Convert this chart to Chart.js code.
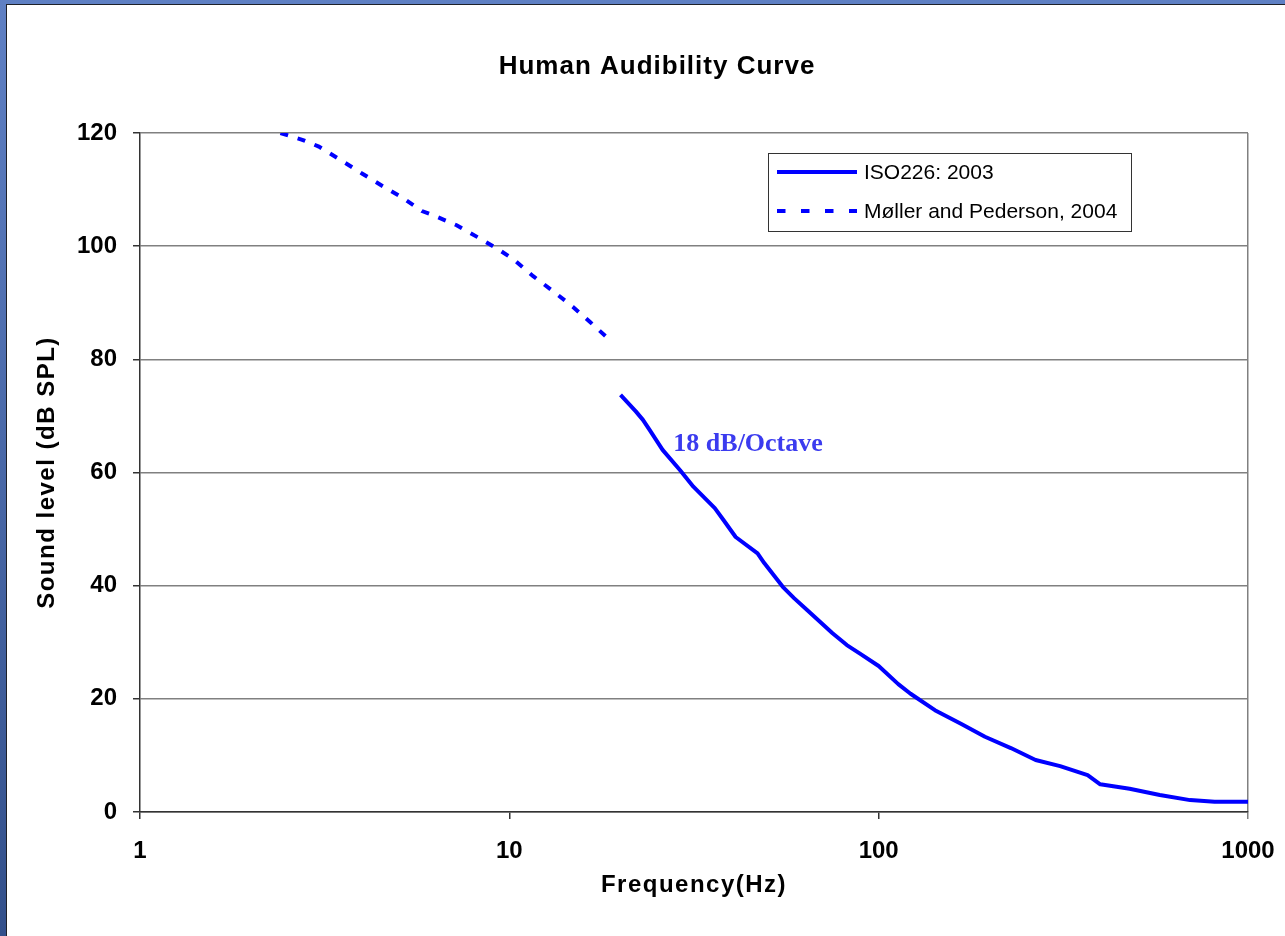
<!DOCTYPE html>
<html>
<head>
<meta charset="utf-8">
<title>Human Audibility Curve</title>
<script src="https://cdn.jsdelivr.net/npm/chart.js@4.4.1/dist/chart.umd.min.js"></script>
<style>
  html, body { margin: 0; padding: 0; }
  body {
    width: 1285px; height: 936px; overflow: hidden; position: relative;
    background: linear-gradient(#5f80c4, #33508b);
  }
  #frame {
    position: absolute; left: 6px; top: 4px; right: 0; bottom: 0;
    border-left: 1px solid #1e2129; border-top: 1px solid #1e2129;
    background: #fff;
  }
  #frame canvas { display: block; }
</style>
</head>
<body>
<div id="frame"><canvas id="audibilityChart" width="1278" height="931"></canvas></div>
<script>
// threshold of hearing, ISO 226:2003 (Hz / dB SPL)
const isoFreq = [20, 22, 23, 24, 26, 29, 31.5, 36, 38, 41, 47, 49, 55, 59, 64, 75, 82, 89,
                 100, 113, 122, 142, 167, 194, 228, 266, 310, 368, 398, 478, 577, 697, 812, 1000];
const isoLevel = [73.7, 70.8, 69.3, 67.5, 64.0, 60.4, 57.5, 53.7, 51.6, 48.6, 45.7, 44.0, 39.8, 37.8, 35.7, 31.6, 29.5, 28.0,
                  25.8, 22.6, 20.9, 18.0, 15.6, 13.3, 11.3, 9.2, 8.1, 6.5, 4.9, 4.1, 3.0, 2.1, 1.8, 1.8];

// infrasound threshold, Møller and Pederson 2004
const mpFreq = [2.4, 2.75, 3.05, 3.5, 4, 4.65, 5.1, 5.8, 6.2, 7.2, 8.2, 9.25, 10.25, 11.6, 13.1, 14.85, 16.6, 18.5, 19];
const mpLevel = [120, 118.8, 117.6, 115.2, 112.8, 110.2, 108.7, 106.2, 105.5, 103.7, 101.6, 99.6, 97.7, 94.7, 92.1, 89.3, 86.5, 83.7, 82.9];

const seriesLabels = ['ISO226: 2003', 'Møller and Pederson, 2004'];
const freqTicks = [1, 10, 100, 1000];
const levelTicks = [0, 20, 40, 60, 80, 100, 120];

const chartTitle = 'Human Audibility Curve';
const slopeNote = '18 dB/Octave';
const slopeNoteFreq = 27.8;
const slopeNoteLevel = 64.9;

Chart.defaults.font.family = '"Liberation Sans", Arial, sans-serif';
Chart.defaults.color = '#000';

const toPoints = (xs, ys) => xs.map((x, i) => ({ x: x, y: ys[i] }));

// axis titles are spaced out a little, tick labels are not (they draw after the datasets)
const textSpacing = {
  id: 'textSpacing',
  beforeDraw(chart) { chart.ctx.letterSpacing = '1.5px'; },
  afterDatasetsDraw(chart) { chart.ctx.letterSpacing = '0px'; }
};

// title sits a bit left of the plot centre, so it is drawn here
const titleText = {
  id: 'titleText',
  afterDraw(chart) {
    const ctx = chart.ctx;
    ctx.save();
    ctx.letterSpacing = '1px';
    ctx.font = 'bold 26px "Liberation Sans", Arial, sans-serif';
    ctx.fillStyle = '#000';
    ctx.textAlign = 'center';
    ctx.textBaseline = 'middle';
    ctx.fillText(chartTitle, 650, 62);
    ctx.restore();
  }
};

// boxed legend inside the plot area, top right
const legendBox = {
  id: 'legendBox',
  afterDraw(chart) {
    const { ctx, chartArea } = chart;
    const left = chartArea.right - 480;
    const top = chartArea.top + 20;
    ctx.save();
    ctx.letterSpacing = '0px';
    ctx.fillStyle = '#fff';
    ctx.fillRect(left, top, 363, 78);
    ctx.strokeStyle = '#333';
    ctx.lineWidth = 1;
    ctx.strokeRect(left + 0.5, top + 0.5, 363, 78);
    ctx.font = '21px "Liberation Sans", Arial, sans-serif';
    ctx.textBaseline = 'middle';
    chart.data.datasets.forEach((ds, i) => {
      const y = top + 19 + i * 39;
      ctx.beginPath();
      ctx.strokeStyle = ds.borderColor;
      ctx.lineWidth = ds.borderWidth;
      ctx.setLineDash(ds.borderDash ? [8.5, 15.5] : []);
      ctx.moveTo(left + 9, y);
      ctx.lineTo(left + 89, y);
      ctx.stroke();
      ctx.setLineDash([]);
      ctx.fillStyle = '#000';
      ctx.fillText(ds.label, left + 96, y + 1);
    });
    ctx.restore();
  }
};

const slopeLabel = {
  id: 'slopeLabel',
  afterDraw(chart) {
    const { ctx, scales } = chart;
    ctx.save();
    ctx.letterSpacing = '0px';
    ctx.font = 'bold 26px "Liberation Serif", "Times New Roman", serif';
    ctx.fillStyle = '#3b3bef';
    ctx.textBaseline = 'middle';
    ctx.fillText(slopeNote, scales.x.getPixelForValue(slopeNoteFreq), scales.y.getPixelForValue(slopeNoteLevel));
    ctx.restore();
  }
};

new Chart(document.getElementById('audibilityChart'), {
  type: 'line',
  data: {
    datasets: [{
      label: seriesLabels[0],
      data: toPoints(isoFreq, isoLevel),
      borderColor: '#0000ff',
      borderWidth: 4,
      borderJoinStyle: 'round',
      pointRadius: 0,
      tension: 0
    }, {
      label: seriesLabels[1],
      data: toPoints(mpFreq, mpLevel),
      borderColor: '#0000ff',
      borderWidth: 4,
      borderDash: [8, 10],
      pointRadius: 0,
      tension: 0
    }]
  },
  options: {
    responsive: false,
    animation: false,
    events: [],
    layout: { padding: { top: 128, right: 37, bottom: 0, left: 0 } },
    plugins: {
      legend: { display: false },
      tooltip: { enabled: false },
      title: { display: false }
    },
    scales: {
      x: {
        type: 'logarithmic',
        min: 1,
        max: 1000,
        afterBuildTicks: scale => { scale.ticks = freqTicks.map(v => ({ value: v })); },
        afterFit: scale => {
          scale.height = 124;
          // the side room comes from layout.padding instead
          scale.paddingLeft = 0;
          scale.paddingRight = 0;
        },
        ticks: {
          z: 1,
          autoSkip: false,
          maxRotation: 0,
          padding: 17.6,
          font: { size: 24, weight: 'bold' },
          callback: v => String(v)
        },
        grid: {
          color: c => (c.tick && c.tick.value === 1000 ? '#808080' : 'transparent'),
          tickColor: c => (c.tick && c.tick.value === 1000 ? '#808080' : '#333'),
          lineWidth: 1.5,
          tickLength: 7
        },
        border: { color: '#333', width: 1.5 },
        title: {
          display: true,
          text: 'Frequency(Hz)',
          font: { size: 24, weight: 'bold' },
          padding: { top: 0, bottom: 36.6 }
        }
      },
      y: {
        min: 0,
        max: 120,
        afterBuildTicks: scale => { scale.ticks = levelTicks.map(v => ({ value: v })); },
        afterFit: scale => { scale.width = 133; },
        ticks: {
          z: 1,
          padding: 16,
          font: { size: 24, weight: 'bold' }
        },
        grid: {
          color: '#808080',
          tickColor: '#333',
          lineWidth: 1.5,
          tickLength: 7
        },
        border: { color: '#333', width: 1.5 },
        title: {
          display: true,
          text: 'Sound level (dB SPL)',
          font: { size: 24, weight: 'bold' },
          padding: { top: 25.6, bottom: 0 }
        }
      }
    }
  },
  plugins: [textSpacing, titleText, legendBox, slopeLabel]
});
</script>
</body>
</html>
